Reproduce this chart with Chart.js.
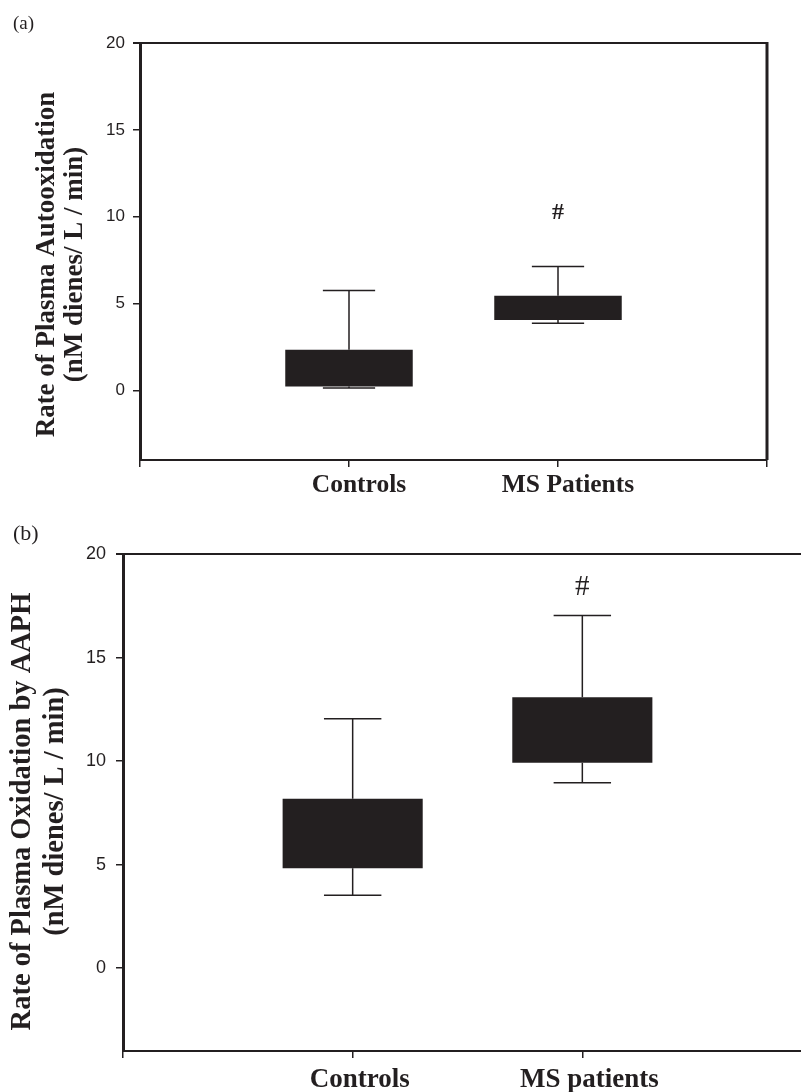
<!DOCTYPE html>
<html>
<head>
<meta charset="utf-8">
<script src="https://cdn.jsdelivr.net/npm/chart.js@4.4.1/dist/chart.umd.min.js"></script>
<style>
    html, body { margin: 0; padding: 0; width: 801px; height: 1092px; overflow: hidden; background: #fff; }
    canvas { position: absolute; left: 0; }
    .panel { position: absolute; left: 13px; z-index: 2; font-family: 'Liberation Serif', serif; color: #231f20; }
</style>
</head>
<body>
<div class="panel" style="top:13px; font-size:19px; line-height:19px">(a)</div>
<canvas id="autoCanvas" width="801" height="505" style="top:0"></canvas>
<div class="panel" style="top:522px; font-size:22px; line-height:22px">(b)</div>
<canvas id="aaphCanvas" width="820" height="572" style="top:520px"></canvas>
<script>
const yTicks = [0, 5, 10, 15, 20]

// (a) rate of plasma autooxidation
const autoCategories = ['Controls', 'MS Patients']
const autoLow = [0.14, 3.87]
const autoQ1 = [0.23, 4.06]
const autoQ3 = [2.34, 5.46]
const autoHigh = [5.75, 7.13]
const autoMarks = ['', '#']
const autoMarkAt = [null, 10.2]

// (b) rate of plasma oxidation by AAPH
const aaphCategories = ['Controls', 'MS patients']
const aaphLow = [3.52, 8.95]
const aaphQ1 = [4.82, 9.92]
const aaphQ3 = [8.18, 13.08]
const aaphHigh = [12.05, 17.03]
const aaphMarks = ['', '#']
const aaphMarkAt = [null, 18.4]

const ink = '#231f20'

// whiskers under the boxes, frame, "#" and the y title on top
function boxExtras(o) {
    return {
        id: 'boxExtras',
        beforeDatasetsDraw(chart) {
            const { ctx, scales: { x, y } } = chart
            const half = (x.getPixelForValue(1) - x.getPixelForValue(0)) * 0.125
            ctx.save()
            ctx.strokeStyle = ink
            ctx.lineWidth = 1.5
            o.low.forEach((lo, i) => {
                const px = x.getPixelForValue(i + 1)
                const ends = [[lo, o.q1[i]], [o.high[i], o.q3[i]]]
                ends.forEach(([end, edge]) => {
                    const ye = y.getPixelForValue(end)
                    ctx.beginPath()
                    ctx.moveTo(px, ye)
                    ctx.lineTo(px, y.getPixelForValue(edge))
                    ctx.moveTo(px - half, ye)
                    ctx.lineTo(px + half, ye)
                    ctx.stroke()
                })
            })
            ctx.restore()
        },
        afterDraw(chart) {
            const { ctx, chartArea: a, scales: { x, y } } = chart
            ctx.save()
            ctx.strokeStyle = ink
            ctx.lineWidth = 2
            ctx.beginPath()
            ctx.moveTo(a.left - 7, a.top)
            ctx.lineTo(a.right, a.top)
            ctx.stroke()
            ctx.lineWidth = 3
            ctx.beginPath()
            ctx.moveTo(a.right, a.top - 1)
            ctx.lineTo(a.right, a.bottom)
            ctx.stroke()

            ctx.fillStyle = ink
            ctx.font = o.markFont
            ctx.textAlign = 'center'
            ctx.textBaseline = 'middle'
            o.marks.forEach((m, i) => {
                if (!m) return
                ctx.fillText(m, x.getPixelForValue(i + 1), y.getPixelForValue(o.markAt[i]))
            })

            // two-line rotated axis title
            ctx.font = o.titleFont
            const cy = (a.top + a.bottom) / 2 + o.titleShift
            o.title.forEach((line, i) => {
                ctx.save()
                ctx.translate(o.titleX[i], cy)
                ctx.rotate(-Math.PI / 2)
                ctx.fillText(line, 0, 0)
                ctx.restore()
            })
            ctx.restore()
        }
    }
}

function boxChart(canvas, o) {
    return new Chart(canvas, {
        type: 'bar',
        data: {
            labels: ['', ...o.labels, ''],
            datasets: [{
                data: [null, ...o.q1.map((v, i) => [v, o.q3[i]]), null],
                backgroundColor: ink,
                borderWidth: 0,
                categoryPercentage: 1,
                barPercentage: 0.61
            }]
        },
        options: {
            responsive: false,
            animation: false,
            layout: { padding: o.padding },
            plugins: {
                legend: { display: false },
                tooltip: { enabled: false }
            },
            scales: {
                x: {
                    offset: false,
                    grid: { offset: false, drawOnChartArea: false, color: ink, lineWidth: 1.5, tickLength: 7 },
                    border: { color: ink, width: 2 },
                    ticks: {
                        color: ink,
                        font: { family: 'Liberation Serif', weight: 'bold', size: o.labelSize },
                        padding: o.labelPad,
                        labelOffset: o.labelShift,
                        maxRotation: 0,
                        autoSkip: false
                    },
                    afterFit: s => { s.height = o.xHeight }
                },
                y: {
                    min: -4,
                    max: 20,
                    afterBuildTicks: s => { s.ticks = yTicks.map(v => ({ value: v })) },
                    grid: { drawOnChartArea: false, color: ink, lineWidth: 1.5, tickLength: 7 },
                    border: { color: ink, width: 3 },
                    ticks: {
                        color: ink,
                        font: { family: 'Liberation Sans', size: o.tickSize },
                        padding: o.tickPad
                    },
                    afterFit: s => { s.width = o.yWidth }
                }
            }
        },
        plugins: [boxExtras(o)]
    })
}

boxChart(document.querySelector('#autoCanvas'), {
    labels: autoCategories,
    low: autoLow, q1: autoQ1, q3: autoQ3, high: autoHigh,
    marks: autoMarks, markAt: autoMarkAt,
    markFont: 'bold 24px "Liberation Serif"',
    title: ['Rate of Plasma Autooxidation', '(nM dienes/ L / min)'],
    titleFont: 'bold 27px "Liberation Serif"',
    titleX: [47, 75], titleShift: 13,
    labelSize: 25.5, labelPad: 3, labelShift: 10,
    tickSize: 17, tickPad: 8,
    padding: { left: 0, top: 43, right: 34, bottom: 0 },
    yWidth: 140, xHeight: 45
})

boxChart(document.querySelector('#aaphCanvas'), {
    labels: aaphCategories,
    low: aaphLow, q1: aaphQ1, q3: aaphQ3, high: aaphHigh,
    marks: aaphMarks, markAt: aaphMarkAt,
    markFont: '29px "Liberation Serif"',
    title: ['Rate of Plasma Oxidation by AAPH', '(nM dienes/ L / min)'],
    titleFont: 'bold 28.5px "Liberation Serif"',
    titleX: [23, 56], titleShift: 9,
    labelSize: 27, labelPad: 6, labelShift: 7,
    tickSize: 18, tickPad: 10,
    padding: { left: 0, top: 34, right: 8, bottom: 0 },
    yWidth: 123, xHeight: 41
})
</script>
</body>
</html>
